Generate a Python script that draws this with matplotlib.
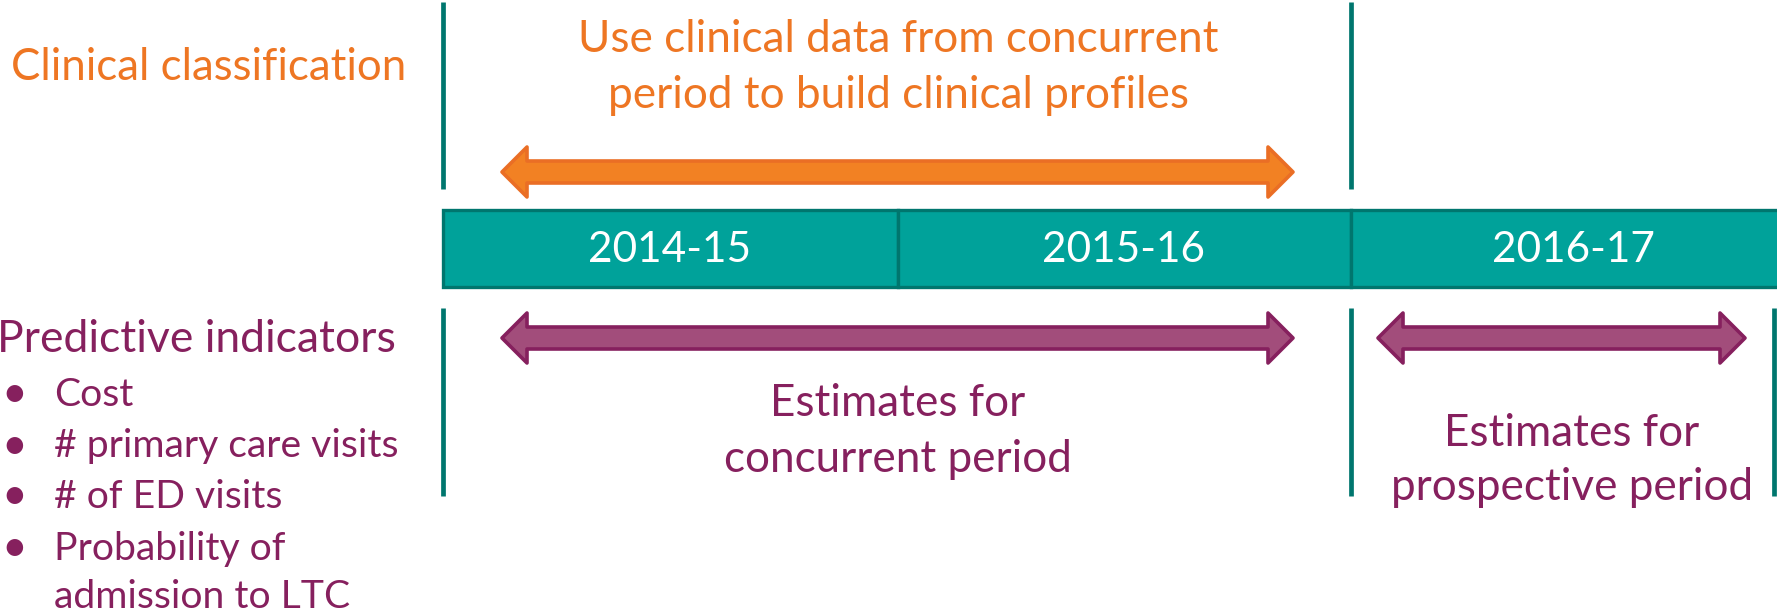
import matplotlib
matplotlib.use("Agg")
import matplotlib.pyplot as plt
from matplotlib.patches import Polygon, Rectangle

# ---- content ----
periods = ["2014-15", "2015-16", "2016-17"]
period_edges = [443, 898, 1351, 1810]          # box boundaries (px)
top_title = "Clinical classification"
top_note = ["Use clinical data from concurrent", "period to build clinical profiles"]
bottom_title = "Predictive indicators"
indicators = ["Cost", "# primary care visits", "# of ED visits", "Probability of\nadmission to LTC"]
concurrent_note = ["Estimates for", "concurrent period"]
prospective_note = ["Estimates for", "prospective period"]

# ---- styling ----
ORANGE = "#EE7623"
ORANGE_FILL = "#F28123"
ORANGE_EDGE = "#EA6E25"
PURPLE = "#86205E"
PURPLE_FILL = "#A24D7B"
TEAL = "#00A29A"
TEAL_DARK = "#00766E"
FONT = "Lato"

W, H = 1777, 616
fig = plt.figure(figsize=(W / 100, H / 100), dpi=100)
ax = fig.add_axes([0, 0, 1, 1])
ax.set_xlim(0, W)
ax.set_ylim(H, 0)
ax.axis("off")

def darrow(x0, x1, y, fill, edge, shaft=11, head=25, hl=25):
    pts = [(x0, y), (x0 + hl, y - head), (x0 + hl, y - shaft), (x1 - hl, y - shaft),
           (x1 - hl, y - head), (x1, y), (x1 - hl, y + head), (x1 - hl, y + shaft),
           (x0 + hl, y + shaft), (x0 + hl, y + head)]
    ax.add_patch(Polygon(pts, closed=True, facecolor=fill, edgecolor=edge,
                         linewidth=2.6, joinstyle="round", zorder=3))

# vertical separators
for x, segs in [(443, [(2, 189), (308, 496)]), (1351, [(2, 189), (308, 496)]), (1774, [(308, 496)])]:
    for y0, y1 in segs:
        ax.plot([x, x], [y0, y1], color=TEAL_DARK, linewidth=3.4, solid_capstyle="butt", zorder=2)

# period boxes
box_top, box_bot = 210, 287
label_x = [670, 1124, 1573]
for i, lab in enumerate(periods):
    x0, x1 = period_edges[i], period_edges[i + 1]
    ax.add_patch(Rectangle((x0, box_top), x1 - x0, box_bot - box_top, facecolor=TEAL,
                           edgecolor=TEAL_DARK, linewidth=2.4, zorder=2))
    ax.text(label_x[i], (box_top + box_bot) / 2 + 1, lab,
            color="white", fontsize=30.5, family=FONT, ha="center", va="center", zorder=4)

# arrows
darrow(502, 1293, 172, ORANGE_FILL, ORANGE_EDGE)
darrow(502, 1293, 338, PURPLE_FILL, PURPLE)
darrow(1378, 1745, 338, PURPLE_FILL, PURPLE)

# texts
ax.text(11, 68, top_title, color=ORANGE, fontsize=31.5, family=FONT, ha="left", va="center")
for j, line in enumerate(top_note):
    ax.text(898, 40 + 56 * j, line, color=ORANGE, fontsize=31.8, family=FONT, ha="center", va="center")

ax.text(-3, 340, bottom_title, color=PURPLE, fontsize=32, family=FONT, ha="left", va="center")
lines_y = [395, 446, 497, 549]
for j, item in enumerate(indicators):
    parts = item.split("\n")
    ax.text(1, lines_y[j], "\u2022", color=PURPLE, fontsize=32, family=FONT, ha="left", va="center")
    for k, p in enumerate(parts):
        ax.text(54, lines_y[j] + 48 * k, p, color=PURPLE, fontsize=28.2, family=FONT, ha="left", va="center")

for j, line in enumerate(concurrent_note):
    ax.text(898, 403 + 57 * j, line, color=PURPLE, fontsize=31.7, family=FONT, ha="center", va="center")
for j, line in enumerate(prospective_note):
    ax.text(1572, 434 + 54 * j, line, color=PURPLE, fontsize=31.7, family=FONT, ha="center", va="center")

fig.savefig("out.png", dpi=100, facecolor="white")
